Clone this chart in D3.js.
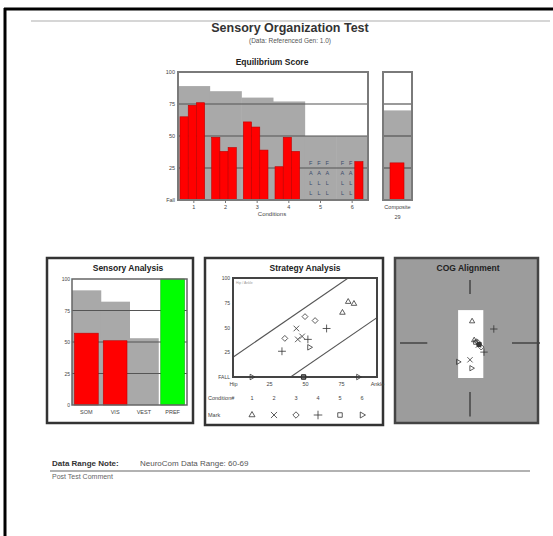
<!DOCTYPE html>
<html><head><meta charset="utf-8">
<script src="https://cdn.jsdelivr.net/npm/d3@7"></script>
<style>
body{margin:0;background:#fff}
svg{display:block}
text{font-family:"Liberation Sans",Arial,sans-serif}
</style>
</head><body>
<svg id="c" width="553" height="536"></svg>
<script>
// Equilibrium score per condition (3 trials each); null = fall
const conditions = ["1","2","3","4","5","6"];
const trialScores = [[65,74,76],[49,38,41],[61,57,39],[26,49,38],[null,null,null],[null,null,30]];
const normLimits = [89,85,80,77,50,50];
const yTicks = [0,25,50,75,100];
const yTickLabels = ["Fall","25","50","75","100"];
const compositeScore = 29;
const compositeNorm = 70;

// Sensory analysis
const sensoryCats = ["SOM","VIS","VEST","PREF"];
const sensoryScores = [57,51,0,100];
const sensoryNorms = [91,82,53,0];

// Strategy analysis (strategy score, equilibrium score) per condition
const stratX = [[76,84,80],[44,45,48],[50,57,36],[34,65,52],[49,49,49],[13,87,53]];
const stratY = [[65,74,76],[49,38,41],[61,57,39],[26,49,38],[0,0,0],[0,0,30]];
const stratTicks = [0,25,50,75,100];
const stratXLabels = ["Hip","25","50","75","Ankle"];
const stratYLabels = ["FALL","25","50","75","100"];

// COG alignment (x, y) per condition
const cogX = [[0.3,0.6],[0.0,1.2],[1.0,1.6],[3.4,2.0],[1.3,0.8],[-1.7,0.2]];
const cogY = [[3.1,0.4],[-2.4,-0.3],[0.2,-0.6],[2.0,-1.3],[-0.2,0.1],[-2.7,-3.6]];
const supportX = [-1.7,1.9];
const supportY = [-5,4.7];

const svg = d3.select("#c");
const F = '"Liberation Sans",Arial,sans-serif';

// page frame
svg.append("line").attr("x1",4).attr("x2",553).attr("y1",9).attr("y2",9).attr("stroke","#000").attr("stroke-width",3);
svg.append("line").attr("x1",5).attr("x2",5).attr("y1",8).attr("y2",536).attr("stroke","#000").attr("stroke-width",3);
svg.append("line").attr("x1",31).attr("x2",550).attr("y1",21).attr("y2",21).attr("stroke","#c8c8c8").attr("stroke-width",1.5);

svg.append("text").attr("x",290).attr("y",32).attr("text-anchor","middle").attr("font-size",12.5).attr("font-weight","bold").attr("fill","#333").text("Sensory Organization Test");
svg.append("text").attr("x",290).attr("y",43).attr("text-anchor","middle").attr("font-size",6.5).attr("fill","#555").text("(Data: Referenced Gen: 1.0)");

// ---------- Equilibrium score ----------
const x = d3.scaleBand().domain(conditions).range([178,368]);
const trial = d3.scaleBand().domain([0,1,2]).range([2, x.bandwidth()-5]);
const y = d3.scaleLinear().domain([0,100]).range([200,72]);

svg.append("text").attr("x",272).attr("y",65).attr("text-anchor","middle").attr("font-size",8.5).attr("font-weight","bold").attr("fill","#222").text("Equilibrium Score");

const eq = svg.append("g");
eq.append("rect").attr("x",178).attr("y",y(100)).attr("width",190).attr("height",y(0)-y(100)).attr("fill","#fff");
eq.selectAll(".norm").data(conditions).join("rect")
  .attr("x",d=>x(d)).attr("width",x.bandwidth()+0.5)
  .attr("y",(d,i)=>y(normLimits[i])).attr("height",(d,i)=>y(0)-y(normLimits[i]))
  .attr("fill","#a9a9a9");
eq.selectAll(".grid").data([25,50,75]).join("line")
  .attr("x1",178).attr("x2",368).attr("y1",d=>y(d)).attr("y2",d=>y(d))
  .attr("stroke","#555").attr("stroke-width",1.2);

const trials = [];
conditions.forEach((c,i)=>trialScores[i].forEach((v,j)=>trials.push({c,j,v})));
eq.selectAll(".bar").data(trials.filter(d=>d.v!==null)).join("rect")
  .attr("x",d=>x(d.c)+trial(d.j)).attr("width",trial.bandwidth())
  .attr("y",d=>y(d.v)).attr("height",d=>y(0)-y(d.v))
  .attr("fill","#ff0000").attr("stroke","#c00000").attr("stroke-width",0.6);
const fallLetters = ["F","A","L","L"];
trials.filter(d=>d.v===null).forEach(d=>{
  fallLetters.forEach((L,k)=>{
    eq.append("text").attr("x",x(d.c)+trial(d.j)+trial.bandwidth()/2).attr("y",165+k*10)
      .attr("text-anchor","middle").attr("font-size",5.5).attr("fill","#3a4a6a").text(L);
  });
});
eq.append("rect").attr("x",178).attr("y",y(100)).attr("width",190).attr("height",y(0)-y(100))
  .attr("fill","none").attr("stroke","#7a7a7a").attr("stroke-width",2);

const eqY = eq.append("g").attr("transform","translate(176,0)")
  .call(d3.axisLeft(y).tickValues(yTicks).tickFormat((d,i)=>yTickLabels[i]).tickSize(0).tickPadding(1));
eqY.select(".domain").remove();
eqY.selectAll("text").attr("font-size",5.5).attr("fill","#444").attr("font-family",F);

const eqX = eq.append("g").attr("transform","translate(0,200)")
  .call(d3.axisBottom(x).tickSize(3).tickPadding(2));
eqX.select(".domain").remove();
eqX.selectAll("line").attr("stroke","#777");
eqX.selectAll("text").attr("font-size",5.5).attr("fill","#444").attr("font-family",F);
svg.append("text").attr("x",272).attr("y",216).attr("text-anchor","middle").attr("font-size",6).attr("fill","#444").text("Conditions");

// composite
const xc = d3.scaleBand().domain(["Composite"]).range([383,412]).paddingInner(0).paddingOuter(0);
const comp = svg.append("g");
comp.append("rect").attr("x",383).attr("y",y(100)).attr("width",29).attr("height",y(0)-y(100)).attr("fill","#fff");
comp.append("rect").attr("x",xc("Composite")).attr("width",xc.bandwidth()).attr("y",y(compositeNorm)).attr("height",y(0)-y(compositeNorm)).attr("fill","#a9a9a9");
comp.selectAll(".grid").data([25,50,75]).join("line")
  .attr("x1",383).attr("x2",412).attr("y1",d=>y(d)).attr("y2",d=>y(d)).attr("stroke","#555").attr("stroke-width",1.2);
comp.append("rect").attr("x",xc("Composite")+7).attr("width",xc.bandwidth()-15)
  .attr("y",y(compositeScore)).attr("height",y(0)-y(compositeScore))
  .attr("fill","#ff0000").attr("stroke","#c00000").attr("stroke-width",0.6);
comp.append("rect").attr("x",383).attr("y",y(100)).attr("width",29).attr("height",y(0)-y(100))
  .attr("fill","none").attr("stroke","#7a7a7a").attr("stroke-width",2);
const cx = comp.append("g").attr("transform","translate(0,200)").call(d3.axisBottom(xc).tickSize(0).tickPadding(5));
cx.select(".domain").remove();
cx.selectAll("text").attr("font-size",5.5).attr("fill","#444").attr("font-family",F);
comp.append("text").attr("x",397.5).attr("y",219).attr("text-anchor","middle").attr("font-size",5.5).attr("fill","#444").text(compositeScore);

// ---------- Sensory analysis ----------
const sa = svg.append("g");
sa.append("rect").attr("x",47).attr("y",258).attr("width",146).attr("height",165).attr("fill","#fff").attr("stroke","#333").attr("stroke-width",2.5);
sa.append("text").attr("x",128).attr("y",271).attr("text-anchor","middle").attr("font-size",8.5).attr("font-weight","bold").attr("fill","#222").text("Sensory Analysis");
const xs = d3.scaleBand().domain(sensoryCats).range([72,187]);
const ysa = d3.scaleLinear().domain([0,100]).range([405,279]);
sa.selectAll(".norm").data(sensoryCats).join("rect")
  .attr("x",d=>xs(d)).attr("width",xs.bandwidth()+0.5)
  .attr("y",(d,i)=>ysa(sensoryNorms[i])).attr("height",(d,i)=>ysa(0)-ysa(sensoryNorms[i]))
  .attr("fill","#a9a9a9");
sa.selectAll(".grid").data([25,50,75]).join("line")
  .attr("x1",72).attr("x2",187).attr("y1",d=>ysa(d)).attr("y2",d=>ysa(d)).attr("stroke","#555").attr("stroke-width",1.2);
sa.selectAll(".bar").data(sensoryCats).join("rect")
  .attr("x",d=>xs(d)+2.5).attr("width",xs.bandwidth()-5)
  .attr("y",(d,i)=>ysa(sensoryScores[i])).attr("height",(d,i)=>ysa(0)-ysa(sensoryScores[i]))
  .attr("fill",d=>d==="PREF"?"#00ff00":"#ff0000")
  .attr("stroke",d=>d==="PREF"?"#00b000":"#c00000").attr("stroke-width",0.6);
sa.append("rect").attr("x",72).attr("y",279).attr("width",115).attr("height",126).attr("fill","none").attr("stroke","#666").attr("stroke-width",1.5);
const saY = sa.append("g").attr("transform","translate(71,0)")
  .call(d3.axisLeft(ysa).tickValues(yTicks).tickFormat(d=>d).tickSize(0).tickPadding(1));
saY.select(".domain").remove();
saY.selectAll("text").attr("font-size",5).attr("fill","#444").attr("font-family",F);
const saX = sa.append("g").attr("transform","translate(0,405)").call(d3.axisBottom(xs).tickSize(0).tickPadding(5));
saX.select(".domain").remove();
saX.selectAll("text").attr("font-size",5.5).attr("fill","#444").attr("font-family",F);

// ---------- Strategy analysis ----------
const st = svg.append("g");
st.append("rect").attr("x",205).attr("y",258).attr("width",178).attr("height",167).attr("fill","#fff").attr("stroke","#333").attr("stroke-width",2.5);
st.append("text").attr("x",305).attr("y",271).attr("text-anchor","middle").attr("font-size",8.5).attr("font-weight","bold").attr("fill","#222").text("Strategy Analysis");
const sx = d3.scaleLinear().domain([0,100]).range([233,377]);
const sy = d3.scaleLinear().domain([0,100]).range([377,278]);
st.append("clipPath").attr("id","sclip").append("rect").attr("x",233).attr("y",278).attr("width",144).attr("height",99);
const limits = [[[0,20],[80,100]],[[40,0],[100,60]]];
st.append("g").attr("clip-path","url(#sclip)").selectAll("line").data(limits).join("line")
  .attr("x1",d=>sx(d[0][0])).attr("y1",d=>sy(d[0][1])).attr("x2",d=>sx(d[1][0])).attr("y2",d=>sy(d[1][1]))
  .attr("stroke","#555").attr("stroke-width",1.1);
st.append("text").attr("x",236).attr("y",284).attr("font-size",3.5).attr("fill","#999").text("Hip / Ankle");
st.append("rect").attr("x",233).attr("y",278).attr("width",144).attr("height",99).attr("fill","none").attr("stroke","#444").attr("stroke-width",2);

const symTypes = [d3.symbolTriangle2||d3.symbolTriangle, d3.symbolTimes||d3.symbolCross, d3.symbolDiamond2||d3.symbolDiamond, d3.symbolPlus||d3.symbolCross, d3.symbolSquare2||d3.symbolSquare, d3.symbolTriangle2||d3.symbolTriangle];
const symRot = [0,0,0,0,0,90];
function sym(i,size){ return d3.symbol().type(symTypes[i]).size(size)(); }

const pts = [];
stratX.forEach((arr,i)=>arr.forEach((v,j)=>pts.push({i,x:v,y:stratY[i][j]})));
st.selectAll(".pt").data(pts).join("path")
  .attr("d",d=>sym(d.i,22))
  .attr("transform",d=>`translate(${sx(d.x)},${sy(d.y)}) rotate(${symRot[d.i]})`)
  .attr("fill","none").attr("stroke","#333").attr("stroke-width",0.8);

const stY = st.append("g").attr("transform","translate(231,0)")
  .call(d3.axisLeft(sy).tickValues(stratTicks).tickFormat((d,i)=>stratYLabels[i]).tickSize(0).tickPadding(1));
stY.select(".domain").remove();
stY.selectAll("text").attr("font-size",5).attr("fill","#444").attr("font-family",F);
const stX = st.append("g").attr("transform","translate(0,378)")
  .call(d3.axisBottom(sx).tickValues(stratTicks).tickFormat((d,i)=>stratXLabels[i]).tickSize(0).tickPadding(4));
stX.select(".domain").remove();
stX.selectAll("text").attr("font-size",5.5).attr("fill","#444").attr("font-family",F);

const lx = d3.scalePoint().domain(conditions).range([252,362]);
st.append("text").attr("x",208).attr("y",400).attr("font-size",5.5).attr("fill","#444").text("Condition#");
st.append("text").attr("x",208).attr("y",417).attr("font-size",5.5).attr("fill","#444").text("Mark");
st.selectAll(".ln").data(conditions).join("text").attr("x",d=>lx(d)).attr("y",400)
  .attr("text-anchor","middle").attr("font-size",5.5).attr("fill","#444").text(d=>d);
st.selectAll(".lm").data(conditions).join("path")
  .attr("d",(d,i)=>sym(i,26))
  .attr("transform",(d,i)=>`translate(${lx(d)},${415}) rotate(${symRot[i]})`)
  .attr("fill","none").attr("stroke","#333").attr("stroke-width",0.8);

// ---------- COG alignment ----------
const cg = svg.append("g");
cg.append("rect").attr("x",395).attr("y",258).attr("width",143).attr("height",165).attr("fill","#9c9c9c").attr("stroke","#444").attr("stroke-width",2.5);
cg.append("text").attr("x",468).attr("y",271).attr("text-anchor","middle").attr("font-size",8.5).attr("font-weight","bold").attr("fill","#222").text("COG Alignment");
const gx = d3.scaleLinear().domain([-10,10]).range([400,540]);
const gy = d3.scaleLinear().domain([-10,10]).range([413,273]);
const cross = [[[0,9],[0,7]],[[0,-7],[0,-10.5]],[[-10,0],[-6.1,0]],[[6,0],[10,0]]];
cg.selectAll(".cr").data(cross).join("line")
  .attr("x1",d=>gx(d[0][0])).attr("y1",d=>gy(d[0][1])).attr("x2",d=>gx(d[1][0])).attr("y2",d=>gy(d[1][1]))
  .attr("stroke","#444").attr("stroke-width",1.5);
cg.append("rect").attr("x",gx(supportX[0])).attr("y",gy(supportY[1]))
  .attr("width",gx(supportX[1])-gx(supportX[0])).attr("height",gy(supportY[0])-gy(supportY[1])).attr("fill","#fff");
const cpts = [];
cogX.forEach((arr,i)=>arr.forEach((v,j)=>cpts.push({i,x:v,y:cogY[i][j]})));
cg.selectAll(".cp").data(cpts).join("path")
  .attr("d",d=>sym(d.i,20))
  .attr("transform",d=>`translate(${gx(d.x)},${gy(d.y)}) rotate(${symRot[d.i]})`)
  .attr("fill","none").attr("stroke","#333").attr("stroke-width",0.8);
cg.append("circle").attr("cx",gx(1.3)).attr("cy",gy(-0.2)).attr("r",2.6).attr("fill","#333");

// ---------- notes ----------
svg.append("text").attr("x",52).attr("y",466).attr("font-size",8).attr("font-weight","bold").attr("fill","#333").text("Data Range Note:");
svg.append("text").attr("x",140).attr("y",466).attr("font-size",8).attr("fill","#555").text("NeuroCom Data Range: 60-69");
svg.append("line").attr("x1",50).attr("x2",530).attr("y1",471).attr("y2",471).attr("stroke","#999").attr("stroke-width",1.5);
svg.append("text").attr("x",52).attr("y",479).attr("font-size",7).attr("fill","#666").text("Post Test Comment");
</script>
</body></html>
